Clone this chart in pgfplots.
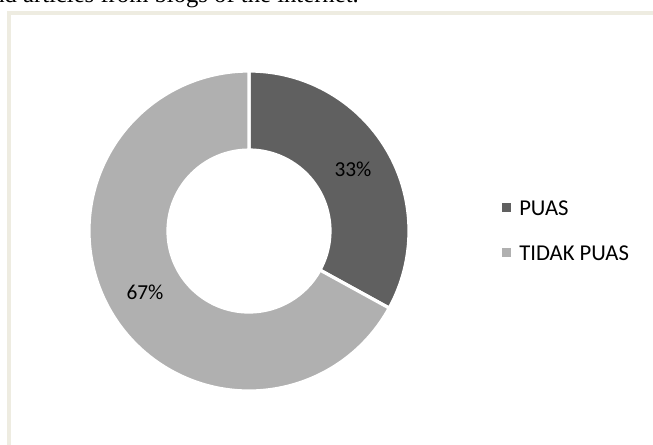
\documentclass[border=0pt]{standalone}
\usepackage{pgfplots}
\pgfplotsset{compat=1.18}
\usepackage{pgfplotstable}
\usepackage{fontspec}
\setmainfont{Carlito}
\newfontfamily\seriffont{Liberation Serif}
\definecolor{cdark}{RGB}{96,96,96}
\definecolor{clight}{RGB}{176,176,176}
\definecolor{cframe}{RGB}{238,236,225}
\pgfplotstableread{
label value
PUAS 33
{TIDAK PUAS} 67
}\slices
\begin{document}
\begin{tikzpicture}[x=0.75pt,y=0.75pt]
\useasboundingbox (0,0) rectangle (653,444);
\clip (0,0) rectangle (653,444);
% caption fragment above the chart
\node[anchor=base east,inner sep=0pt,font=\seriffont\fontsize{18.5pt}{20pt}\selectfont] at (359,441) {and articles from blogs of the internet.};
% frame
\draw[cframe,line width=2.6pt] (9,-10) -- (9,431) -- (670,431);
\pgfplotstablegetelem{0}{value}\of\slices \let\va\pgfplotsretval
\pgfplotstablegetelem{1}{value}\of\slices \let\vb\pgfplotsretval
\pgfmathsetmacro{\tot}{\va+\vb}
\pgfmathsetmacro{\aA}{90}
\pgfmathsetmacro{\aB}{90-\va/\tot*360}
\pgfmathsetmacro{\aC}{\aB-\vb/\tot*360}
\pgfmathsetmacro{\mA}{(\aA+\aB)/2}
\pgfmathsetmacro{\mB}{(\aB+\aC)/2}
\begin{axis}[
  at={(186.75pt,159.75pt)}, anchor=center,
  x=120pt, y=120pt,
  xmin=-1.1, xmax=1.1, ymin=-1.1, ymax=1.1,
  hide axis, clip=false,
]
\addplot[draw=none] coordinates {(0,0)};
\fill[cdark,draw=white,line width=2.4pt]
  (axis cs:{cos(\aA)},{sin(\aA)}) arc[start angle=\aA,end angle=\aB,radius=120pt]
  -- (axis cs:{0.506*cos(\aB)},{0.506*sin(\aB)}) arc[start angle=\aB,end angle=\aA,radius=60.75pt] -- cycle;
\fill[clight,draw=white,line width=2.4pt]
  (axis cs:{cos(\aB)},{sin(\aB)}) arc[start angle=\aB,end angle=\aC,radius=120pt]
  -- (axis cs:{0.506*cos(\aC)},{0.506*sin(\aC)}) arc[start angle=\aC,end angle=\aB,radius=60.75pt] -- cycle;
\node[font=\fontsize{16pt}{18pt}\selectfont] at (axis cs:{0.755*cos(\mA)},{0.755*sin(\mA)}) {\va\%};
\node[font=\fontsize{16pt}{18pt}\selectfont] at (axis cs:{0.755*cos(\mB)},{0.755*sin(\mB)}) {\vb\%};
\end{axis}
% legend
\fill[cdark] (502,232) rectangle (511,241);
\node[anchor=west,inner sep=0pt,font=\fontsize{17pt}{19pt}\selectfont] at (519,236) {PUAS};
\fill[clight] (502,187) rectangle (511,196);
\node[anchor=west,inner sep=0pt,font=\fontsize{17pt}{19pt}\selectfont] at (519,191) {TIDAK PUAS};
\end{tikzpicture}
\end{document}
